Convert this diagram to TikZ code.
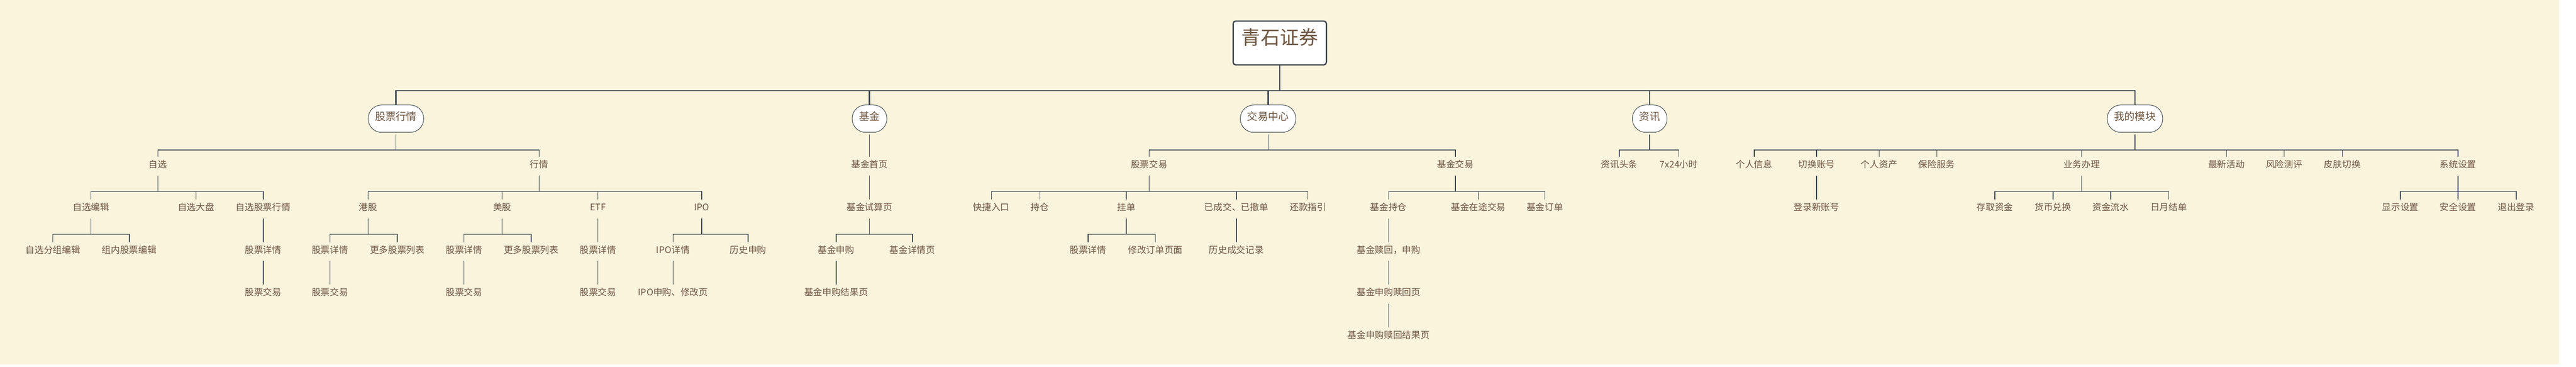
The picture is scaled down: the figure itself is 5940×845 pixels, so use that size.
\documentclass[tikz,border=0pt]{standalone}
\usepackage{fontspec}
\setmainfont{Noto Sans CJK SC}
\definecolor{bgc}{HTML}{FBF4DC}
\definecolor{lc}{HTML}{3B454D}
\definecolor{tc}{HTML}{6E5540}
\tikzset{
  rootbox/.style={draw=lc, line width=3pt, rounded corners=6pt, fill=white,
    minimum width=215pt, minimum height=101pt, inner sep=0pt, text=tc,
    font=\fontsize{44pt}{44pt}\selectfont, text height=0.86em, text depth=0.1em},
  modbox/.style={draw=lc, line width=1.2pt, rounded corners=31pt, fill=white,
    minimum height=63pt, inner xsep=16pt, inner ysep=0pt, text=tc,
    font=\fontsize{24pt}{24pt}\selectfont, text height=0.86em, text depth=0.1em},
  leaf/.style={inner sep=0pt, minimum height=43pt, text=tc,
    font=\fontsize{21pt}{21pt}\selectfont, text height=0.86em, text depth=0.1em},
  topline/.style={draw=lc, line width=3pt},
  subline/.style={draw=lc, line width=1.6pt}
}
\begin{document}
\begin{tikzpicture}[x=1pt,y=-1pt]
\useasboundingbox (0,0) rectangle (5940,845);
\fill[white] (0,0) rectangle (5940,845);
\fill[bgc] (0,0) rectangle (5901,840);

% root and modules
\node[rootbox] (root) at (2951,99) {青石证券};
\node[modbox] (A) at (913,273.5) {股票行情};
\node[modbox] (B) at (2005,273.5) {基金};
\node[modbox] (C) at (2924,273.5) {交易中心};
\node[modbox] (D) at (3804,273.5) {资讯};
\node[modbox] (E) at (4923,273.5) {我的模块};

% level 2
\node[leaf] (A1) at (364,383) {自选};
\node[leaf] (A2) at (1243,383) {行情};
\node[leaf] (B1) at (2005,383) {基金首页};
\node[leaf] (C1) at (2650,383) {股票交易};
\node[leaf] (C2) at (3356,383) {基金交易};
\node[leaf] (D1) at (3734,383) {资讯头条};
\node[leaf] (D2) at (3871,383) {7x24小时};
\node[leaf] (E1) at (4045,383) {个人信息};
\node[leaf] (E2) at (4189,383) {切换账号};
\node[leaf] (E3) at (4333,383) {个人资产};
\node[leaf] (E4) at (4466,383) {保险服务};
\node[leaf] (E5) at (4800,383) {业务办理};
\node[leaf] (E6) at (5134,383) {最新活动};
\node[leaf] (E7) at (5267,383) {风险测评};
\node[leaf] (E8) at (5401,383) {皮肤切换};
\node[leaf] (E9) at (5668,383) {系统设置};

% level 3
\node[leaf] (A11) at (210,482) {自选编辑};
\node[leaf] (A12) at (452,482) {自选大盘};
\node[leaf] (A13) at (607,482) {自选股票行情};
\node[leaf] (A21) at (849,482) {港股};
\node[leaf] (A22) at (1158,482) {美股};
\node[leaf] (A23) at (1379,482) {ETF};
\node[leaf] (A24) at (1618,482) {IPO};
\node[leaf] (B11) at (2005,482) {基金试算页};
\node[leaf] (C11) at (2286,482) {快捷入口};
\node[leaf] (C12) at (2398,482) {持仓};
\node[leaf] (C13) at (2597,482) {挂单};
\node[leaf] (C14) at (2851,482) {已成交、已撤单};
\node[leaf] (C15) at (3016,482) {还款指引};
\node[leaf] (C21) at (3202,482) {基金持仓};
\node[leaf] (C22) at (3409,482) {基金在途交易};
\node[leaf] (C23) at (3562,482) {基金订单};
\node[leaf] (E21) at (4189,482) {登录新账号};
\node[leaf] (E51) at (4600,482) {存取资金};
\node[leaf] (E52) at (4734,482) {货币兑换};
\node[leaf] (E53) at (4867,482) {资金流水};
\node[leaf] (E54) at (5001,482) {日月结单};
\node[leaf] (E91) at (5535,482) {显示设置};
\node[leaf] (E92) at (5668,482) {安全设置};
\node[leaf] (E93) at (5802,482) {退出登录};

% level 4
\node[leaf] (A111) at (122,580) {自选分组编辑};
\node[leaf] (A112) at (298,580) {组内股票编辑};
\node[leaf] (A131) at (607,580) {股票详情};
\node[leaf] (A211) at (761,580) {股票详情};
\node[leaf] (A212) at (916,580) {更多股票列表};
\node[leaf] (A221) at (1070,580) {股票详情};
\node[leaf] (A222) at (1225,580) {更多股票列表};
\node[leaf] (A231) at (1379,580) {股票详情};
\node[leaf] (A241) at (1552,580) {IPO详情};
\node[leaf] (A242) at (1725,580) {历史申购};
\node[leaf] (B111) at (1928,580) {基金申购};
\node[leaf] (B112) at (2104,580) {基金详情页};
\node[leaf] (C131) at (2509,580) {股票详情};
\node[leaf] (C132) at (2664,580) {修改订单页面};
\node[leaf] (C141) at (2851,580) {历史成交记录};
\node[leaf] (C211) at (3202,580) {基金赎回，申购};

% level 5
\node[leaf] (A1311) at (607,678) {股票交易};
\node[leaf] (A2111) at (761,678) {股票交易};
\node[leaf] (A2211) at (1070,678) {股票交易};
\node[leaf] (A2311) at (1379,678) {股票交易};
\node[leaf] (A2411) at (1552,678) {IPO申购、修改页};
\node[leaf] (B1111) at (1928,678) {基金申购结果页};
\node[leaf] (C2111) at (3202,678) {基金申购赎回页};

% level 6
\node[leaf] (C21111) at (3202,776) {基金申购赎回结果页};

% connectors
\foreach \c in {A,B,C,D,E}
  \draw[topline] (root.south) -- ++(0,58) -| (\c.north);
\foreach \p/\c in {A/A1,A/A2,B/B1,C/C1,C/C2,D/D1,D/D2,E/E1,E/E2,E/E3,E/E4,E/E5,E/E6,E/E7,E/E8,E/E9}
  \draw[subline] ([yshift=-4pt]\p.south) -- ++(0,36) -| (\c.north);
\foreach \p/\c in {A1/A11,A1/A12,A1/A13,A2/A21,A2/A22,A2/A23,A2/A24,B1/B11,
  C1/C11,C1/C12,C1/C13,C1/C14,C1/C15,C2/C21,C2/C22,C2/C23,E2/E21,
  E5/E51,E5/E52,E5/E53,E5/E54,E9/E91,E9/E92,E9/E93,
  A11/A111,A11/A112,A13/A131,A21/A211,A21/A212,A22/A221,A22/A222,A23/A231,
  A24/A241,A24/A242,B11/B111,B11/B112,C13/C131,C13/C132,C14/C141,C21/C211,
  A131/A1311,A211/A2111,A221/A2211,A231/A2311,A241/A2411,B111/B1111,C211/C2111,
  C2111/C21111}
  \draw[subline] (\p.south) -- ++(0,36.5) -| (\c.north);
\end{tikzpicture}
\end{document}
